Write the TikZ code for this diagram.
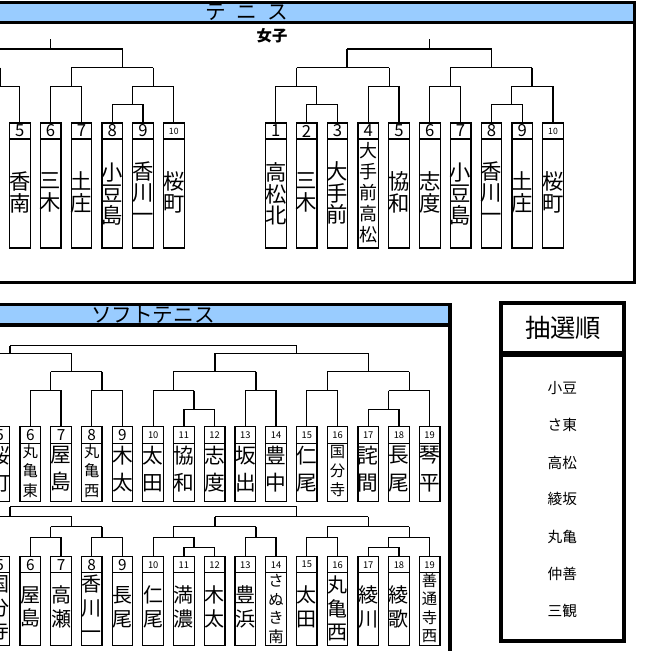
\documentclass[tikz,border=0pt]{standalone}
\usepackage{fontspec}
\setmainfont{Noto Sans CJK JP}
\definecolor{hdr}{HTML}{99CCFF}
% number fonts
\newcommand\NL{\fontsize{12.5pt}{12.5pt}\selectfont}
\newcommand\NS{\fontsize{6.5pt}{6.5pt}\selectfont}
\newcommand\NM{\fontsize{11.5pt}{11.5pt}\selectfont}
\newcommand\NT{\fontsize{7pt}{7pt}\selectfont}
% label fonts
\newcommand\TA{\fontsize{16pt}{16.1pt}\selectfont\lineskiplimit=-50pt\relax}
\newcommand\TB{\fontsize{13.5pt}{15.8pt}\selectfont\lineskiplimit=-50pt\relax}
\newcommand\UA{\fontsize{15.5pt}{20.5pt}\selectfont\lineskiplimit=-50pt\relax}
\newcommand\UB{\fontsize{11.5pt}{14.6pt}\selectfont\lineskiplimit=-50pt\relax}
\newcommand\LA{\fontsize{15pt}{17.8pt}\selectfont\lineskiplimit=-50pt\relax}
\newcommand\LB{\fontsize{11.5pt}{13.9pt}\selectfont\lineskiplimit=-50pt\relax}
% box: #1 name, #2 cx, #3 numfont, #4 number, #5 label font, #6 label, #7 label y
\newcommand\mybox[7]{%
  \pgfmathsetmacro\myH{(\bxBot-\bxTop)*0.75}%
  \pgfmathsetmacro\myC{(\bxBot+\bxTop)/2}%
  \pgfmathsetmacro\myN{(\bxMid+\bxTop)/2}%
  \node[boxn, minimum height=\myH pt] (#1box) at (#2,\myC) {};
  \draw[bxl] (#2-10.3,\bxMid) -- (#2+10.3,\bxMid);
  \node[font=#3, inner sep=0pt] (#1n) at (#2,\myN) {#4};
  \node[lab, font=#5] (#1l) at (#2,#7) {#6};
  \coordinate (#1) at (#2,\bxTop);
}
% match: #1 name, #2 x, #3 top y, #4 bar y, #5 left child, #6 right child
\newcommand\mymt[6]{%
  \coordinate (#1) at (#2,#3);
  \coordinate (#1b) at (#2,#4);
  \draw[br] (#1) -- (#1b);
  \draw[br] (#5) |- (#1b) -| (#6);
}
\begin{document}
\begin{tikzpicture}[x=0.75pt,y=-0.75pt,
  br/.style={line width=1pt},
  bxl/.style={line width=0.9pt},
  boxn/.style={draw,line width=0.9pt,minimum width=15.45pt,inner sep=0pt,outer sep=0pt},
  lab/.style={align=center,inner sep=0pt},
  frm/.style={line width=2.5pt},
  itm/.style={font=\fontsize{11pt}{11pt}\selectfont, inner sep=0pt}]
\useasboundingbox (0,0) rectangle (662,651);
\clip (0,0) rectangle (662,651);

% ===== Tennis frame =====
\fill[hdr] (-10,2.5) rectangle (634.3,22.3);
\draw[frm] (-10,2.5) -- (634.3,2.5) -- (634.3,282.5) -- (-10,282.5);
\draw[frm] (-10,22.3) -- (634.3,22.3);
\node[font=\fontsize{15.5pt}{15.5pt}\selectfont, inner sep=0pt] (ttl1) at (246.8,12.3) {テ\hspace{8pt}ニ\hspace{8pt}ス};
\node[font=\fontsize{11.5pt}{11.5pt}\selectfont\bfseries, inner sep=0pt] (joshi) at (272,36) {女子};

% tennis boxes (left, cropped)
\def\bxTop{123}\def\bxMid{139}\def\bxBot{248}
\mybox{b5}{19.8}{\NL}{5}{\TA}{香\\南}{192.5}
\mybox{b6}{50.6}{\NL}{6}{\TA}{三\\木}{192.5}
\mybox{b7}{81.4}{\NL}{7}{\TA}{土\\庄}{192.5}
\mybox{b8}{112.2}{\NL}{8}{\TA}{小\\豆\\島}{194}
\mybox{b9}{143}{\NL}{9}{\TA}{香\\川\\一}{192}
\mybox{b10}{173.8}{\NS}{10}{\TA}{桜\\町}{192.5}
\coordinate (b4) at (-10.9,123);
\coordinate (b123) at (-40,67.7);
\mymt{b67}{71.3}{67.7}{86.3}{b6}{b7}
\mymt{b89}{132.7}{86.3}{104.7}{b8}{b9}
\mymt{b810}{153.3}{67.7}{86.3}{b89}{b10}
\mymt{bR}{122.7}{49}{67.7}{b67}{b810}
\mymt{b45}{0.4}{67.7}{86.3}{b4}{b5}
\mymt{bL}{-30}{49}{67.7}{b123}{b45}
\mymt{bW}{50.7}{39}{49}{bL}{bR}

% tennis boxes (right, girls)
\mybox{g1}{275.8}{\NL}{1}{\TA}{高\\松\\北}{194}
\mybox{g2}{306.6}{\NL}{2}{\TA}{三\\木}{192.5}
\mybox{g3}{337.4}{\NL}{3}{\TA}{大\\手\\前}{193}
\mybox{g4}{368.2}{\NL}{4}{\TB}{大\\手\\前\\高\\松}{193}
\mybox{g5}{399.0}{\NL}{5}{\TA}{協\\和}{192.5}
\mybox{g6}{429.8}{\NL}{6}{\TA}{志\\度}{192.5}
\mybox{g7}{460.6}{\NL}{7}{\TA}{小\\豆\\島}{194}
\mybox{g8}{491.4}{\NL}{8}{\TA}{香\\川\\一}{192}
\mybox{g9}{522.2}{\NL}{9}{\TA}{土\\庄}{192.5}
\mybox{g10}{553.0}{\NS}{10}{\TA}{桜\\町}{192.5}
\mymt{g23}{316.7}{86.3}{104.7}{g2}{g3}
\mymt{g123}{296.7}{67.7}{86.3}{g1}{g23}
\mymt{g45}{389.3}{67.7}{86.3}{g4}{g5}
\mymt{gL}{347}{49}{67.7}{g123}{g45}
\mymt{g67}{450.3}{67.7}{86.3}{g6}{g7}
\mymt{g89}{511.3}{86.3}{104.7}{g8}{g9}
\mymt{g810}{532}{67.7}{86.3}{g89}{g10}
\mymt{gR}{491.7}{49}{67.7}{g67}{g810}
\mymt{gW}{429.3}{39}{49}{gL}{gR}

% ===== Soft tennis frame =====
\fill[hdr] (-10,304.3) rectangle (450,325);
\draw[frm] (-10,304.3) -- (450,304.3) -- (450,660);
\draw[frm] (-10,325) -- (450,325);
\node[font=\fontsize{15.5pt}{15.5pt}\selectfont, inner sep=0pt] (ttl2) at (153,314.7) {ソフトテニス};

% upper soft tennis
\def\bxTop{426.7}\def\bxMid{443.3}\def\bxBot{501.7}
\mybox{u5}{-0.42}{\NM}{5}{\UA}{桜\\町}{469}
\mybox{u6}{30.3}{\NM}{6}{\UB}{丸\\亀\\東}{471}
\mybox{u7}{61.02}{\NM}{7}{\UA}{屋\\島}{469}
\mybox{u8}{91.74}{\NM}{8}{\UB}{丸\\亀\\西}{471}
\mybox{u9}{122.46}{\NM}{9}{\UA}{木\\太}{469}
\mybox{u10}{153.18}{\NT}{10}{\UA}{太\\田}{469}
\mybox{u11}{183.9}{\NT}{11}{\UA}{協\\和}{469}
\mybox{u12}{214.62}{\NT}{12}{\UA}{志\\度}{469}
\mybox{u13}{245.34}{\NT}{13}{\UA}{坂\\出}{469}
\mybox{u14}{276.06}{\NT}{14}{\UA}{豊\\中}{469}
\mybox{u15}{306.78}{\NT}{15}{\UA}{仁\\尾}{469}
\mybox{u16}{337.5}{\NT}{16}{\UB}{国\\分\\寺}{471}
\mybox{u17}{368.22}{\NT}{17}{\UA}{詫\\間}{469}
\mybox{u18}{398.94}{\NT}{18}{\UA}{長\\尾}{469}
\mybox{u19}{429.66}{\NT}{19}{\UA}{琴\\平}{469}
\coordinate (uLx) at (-40,353.3);
\mymt{u67}{50.7}{371.7}{390.7}{u6}{u7}
\mymt{u89}{102}{371.7}{390.7}{u8}{u9}
\mymt{u69}{71.7}{353.3}{371.7}{u67}{u89}
\mymt{uL}{10}{345.7}{353.3}{uLx}{u69}
\mymt{u1112}{194}{390.7}{409.3}{u11}{u12}
\mymt{u1012}{173.3}{371.7}{390.7}{u10}{u1112}
\mymt{u1314}{256}{371.7}{390.7}{u13}{u14}
\mymt{u1014}{215}{353.3}{371.7}{u1012}{u1314}
\mymt{u1516}{327.3}{371.7}{390.7}{u15}{u16}
\mymt{u1718}{388.7}{390.7}{409.3}{u17}{u18}
\mymt{u1719}{409.3}{371.7}{390.7}{u1718}{u19}
\mymt{u1519}{368.3}{353.3}{371.7}{u1516}{u1719}
\mymt{uR}{296.7}{345.7}{353.3}{u1014}{u1519}
\draw[br] (uL) -- (uR);

% lower soft tennis
\def\bxTop{556.7}\def\bxMid{572.7}\def\bxBot{645.5}
\mybox{l5}{-0.42}{\NM}{5}{\LA}{国\\分\\寺}{608}
\mybox{l6}{30.3}{\NM}{6}{\LA}{屋\\島}{607}
\mybox{l7}{61.02}{\NM}{7}{\LA}{高\\瀬}{607}
\mybox{l8}{91.74}{\NM}{8}{\LA}{香\\川\\一}{607}
\mybox{l9}{122.46}{\NM}{9}{\LA}{長\\尾}{607}
\mybox{l10}{153.18}{\NT}{10}{\LA}{仁\\尾}{607}
\mybox{l11}{183.9}{\NT}{11}{\LA}{満\\濃}{607}
\mybox{l12}{214.62}{\NT}{12}{\LA}{木\\太}{607}
\mybox{l13}{245.34}{\NT}{13}{\LA}{豊\\浜}{607}
\mybox{l14}{276.06}{\NT}{14}{\LB}{さ\\ぬ\\き\\南}{609}
\mybox{l15}{306.78}{\NT}{15}{\LA}{太\\田}{607}
\mybox{l16}{337.5}{\NT}{16}{\LA}{丸\\亀\\西}{608.5}
\mybox{l17}{368.22}{\NT}{17}{\LA}{綾\\川}{607}
\mybox{l18}{398.94}{\NT}{18}{\LA}{綾\\歌}{607}
\mybox{l19}{429.66}{\NT}{19}{\LB}{善\\通\\寺\\西}{608}
\coordinate (lLx) at (-40,516.7);
\mymt{l67}{50.7}{526.7}{537.3}{l6}{l7}
\mymt{l89}{102}{526.7}{537.3}{l8}{l9}
\mymt{l69}{71.7}{516.7}{526.7}{l67}{l89}
\mymt{lL}{10}{506.7}{516.7}{lLx}{l69}
\mymt{l1112}{194}{537.3}{547.3}{l11}{l12}
\mymt{l1012}{173.3}{526.7}{537.3}{l10}{l1112}
\mymt{l1314}{256}{526.7}{537.3}{l13}{l14}
\mymt{l1014}{215}{516.7}{526.7}{l1012}{l1314}
\mymt{l1516}{327.3}{526.7}{537.3}{l15}{l16}
\mymt{l1718}{388.7}{537.3}{547.3}{l17}{l18}
\mymt{l1719}{409.3}{526.7}{537.3}{l1718}{l19}
\mymt{l1519}{368.3}{516.7}{526.7}{l1516}{l1719}
\mymt{lR}{296.7}{506.7}{516.7}{l1014}{l1519}
\draw[br] (lL) -- (lR);

% ===== draw order panel =====
\draw[line width=3.15pt] (501.3,302.8) rectangle (623.8,640.8);
\draw[line width=4.3pt] (501.3,353.8) -- (623.8,353.8);
\node[font=\fontsize{19pt}{19pt}\selectfont, inner sep=0pt] (chusen) at (563.3,327.5) {抽選順};
\node[itm] (o1) at (562.3,388.3) {小豆};
\node[itm] (o2) at (562.3,425) {さ東};
\node[itm] (o3) at (562.3,462.7) {高松};
\node[itm] (o4) at (562.3,499.3) {綾坂};
\node[itm] (o5) at (562.3,537.3) {丸亀};
\node[itm] (o6) at (562.3,574) {仲善};
\node[itm] (o7) at (562.3,611) {三観};
\end{tikzpicture}
\end{document}
